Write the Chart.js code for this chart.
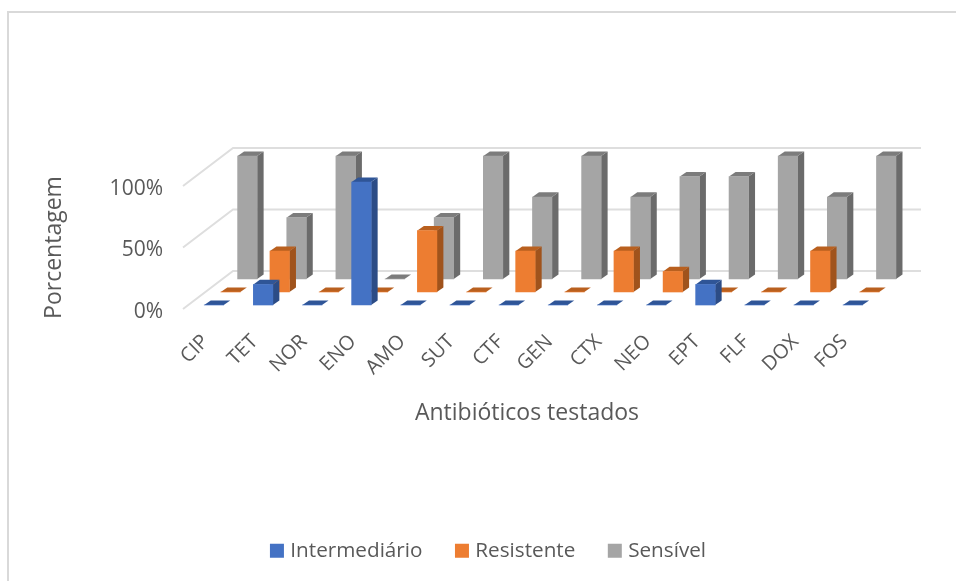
<!DOCTYPE html>
<html>
<head>
<meta charset="utf-8">
<style>html,body{margin:0;padding:0;background:#fff}#w{width:956px;height:581px;position:relative}</style>
<script src="https://cdn.jsdelivr.net/npm/chart.js@4"></script>
</head>
<body>
<div id="w"><canvas id="c" width="956" height="581"></canvas></div>
<script>
const categories = ["CIP","TET","NOR","ENO","AMO","SUT","CTF","GEN","CTX","NEO","EPT","FLF","DOX","FOS"];
const intermediario = [0,16.7,0,100,0,0,0,0,0,0,16.7,0,0,0];
const resistente = [0,33.3,0,0,50,0,33.3,0,33.3,16.7,0,0,33.3,0];
const sensivel = [100,50,100,0,50,100,66.7,100,66.7,83.3,83.3,100,66.7,100];
const yTicks = [0,50,100];
const seriesNames = ["Intermediário","Resistente","Sensível"];

const FONT = '"Open Sans"';
const TEXT = '#595959';
const faces = [
  {front:'#4472C4', side:'#2C4C86', top:'#2F5597', dx:6.4, dy:-4},
  {front:'#ED7D31', side:'#A0531C', top:'#B9601F', dx:23, dy:-17},
  {front:'#A5A5A5', side:'#6B6B6B', top:'#7C7C7C', dx:39.8, dy:-30}
];
const DEPTH_X = 6.5, DEPTH_Y = -4.6;
const WALL_X = 50, WALL_Y = -38;

const box3d = {
  id:'box3d',
  beforeDraw(chart){
    const c = chart.ctx;
    c.save();
    c.strokeStyle = '#D9D9D9';
    c.lineWidth = 2;
    c.beginPath();
    c.moveTo(956,12); c.lineTo(8,12); c.lineTo(8,581);
    c.stroke();
    c.restore();
  },
  beforeDatasetsDraw(chart){
    const c = chart.ctx, y = chart.scales.y, a = chart.chartArea;
    c.save();
    c.strokeStyle = '#DEDEDE';
    c.lineWidth = 2;
    yTicks.forEach(v=>{
      const p = y.getPixelForValue(v);
      c.beginPath();
      c.moveTo(a.left,p);
      c.lineTo(a.left+WALL_X,p+WALL_Y);
      c.lineTo(a.right+WALL_X,p+WALL_Y);
      c.stroke();
    });
    c.restore();
  },
  beforeDatasetDraw(chart,args){
    const c = chart.ctx, f = faces[args.index];
    c.save();
    c.translate(f.dx,f.dy);
    args.meta.data.forEach(b=>{
      const l = b.x-b.width/2, r = b.x+b.width/2, t = b.y, bt = b.base;
      c.fillStyle = f.side;
      c.beginPath();
      c.moveTo(r,t); c.lineTo(r+DEPTH_X,t+DEPTH_Y); c.lineTo(r+DEPTH_X,bt+DEPTH_Y); c.lineTo(r,bt);
      c.closePath(); c.fill();
      c.fillStyle = f.top;
      c.beginPath();
      c.moveTo(l,t); c.lineTo(l+DEPTH_X,t+DEPTH_Y); c.lineTo(r+DEPTH_X,t+DEPTH_Y); c.lineTo(r,t);
      c.closePath(); c.fill();
    });
  },
  afterDatasetDraw(chart){ chart.ctx.restore(); },
  afterLayout(chart){
    const l = chart.legend;
    l.left = 12; l.right = 968;
  }
};

new Chart(document.getElementById('c'),{
  type:'bar',
  data:{
    labels:categories,
    datasets:[
      {label:seriesNames[0],data:intermediario,backgroundColor:faces[0].front},
      {label:seriesNames[1],data:resistente,backgroundColor:faces[1].front},
      {label:seriesNames[2],data:sensivel,backgroundColor:faces[2].front}
    ]
  },
  options:{
    responsive:false,
    animation:false,
    layout:{padding:{top:186,right:85,bottom:10,left:41}},
    datasets:{bar:{grouped:false,barThickness:19.5,borderWidth:0,clip:false}},
    plugins:{
      tooltip:{enabled:false},
      legend:{
        position:'bottom',
        labels:{
          boxWidth:6,boxHeight:6,padding:36.5,color:TEXT,font:{family:FONT,size:20.7},
          generateLabels:chart=>chart.data.datasets.map((d,i)=>({
            text:d.label,fillStyle:d.backgroundColor,strokeStyle:d.backgroundColor,lineWidth:8,datasetIndex:i,fontColor:TEXT
          }))
        }
      }
    },
    scales:{
      x:{
        grid:{display:false},
        border:{display:false},
        ticks:{color:TEXT,font:{family:FONT,size:20},minRotation:45,maxRotation:45,autoSkip:false,padding:13,labelOffset:-2},
        title:{display:true,text:'Antibióticos testados',color:TEXT,font:{family:FONT,size:23},padding:{top:0,bottom:77}},
        afterFit(s){s.height=194.8;}
      },
      y:{
        min:0,max:100,
        grid:{display:false},
        border:{display:false},
        afterBuildTicks(s){s.ticks=yTicks.map(v=>({value:v}));},
        ticks:{color:TEXT,font:{family:FONT,size:21},padding:12,labelOffset:3,callback:v=>v+'%'},
        title:{display:true,text:'Porcentagem',color:TEXT,font:{family:FONT,size:23},padding:0},
        afterFit(s){s.width=142;}
      }
    }
  },
  plugins:[box3d]
});
</script>
</body>
</html>
